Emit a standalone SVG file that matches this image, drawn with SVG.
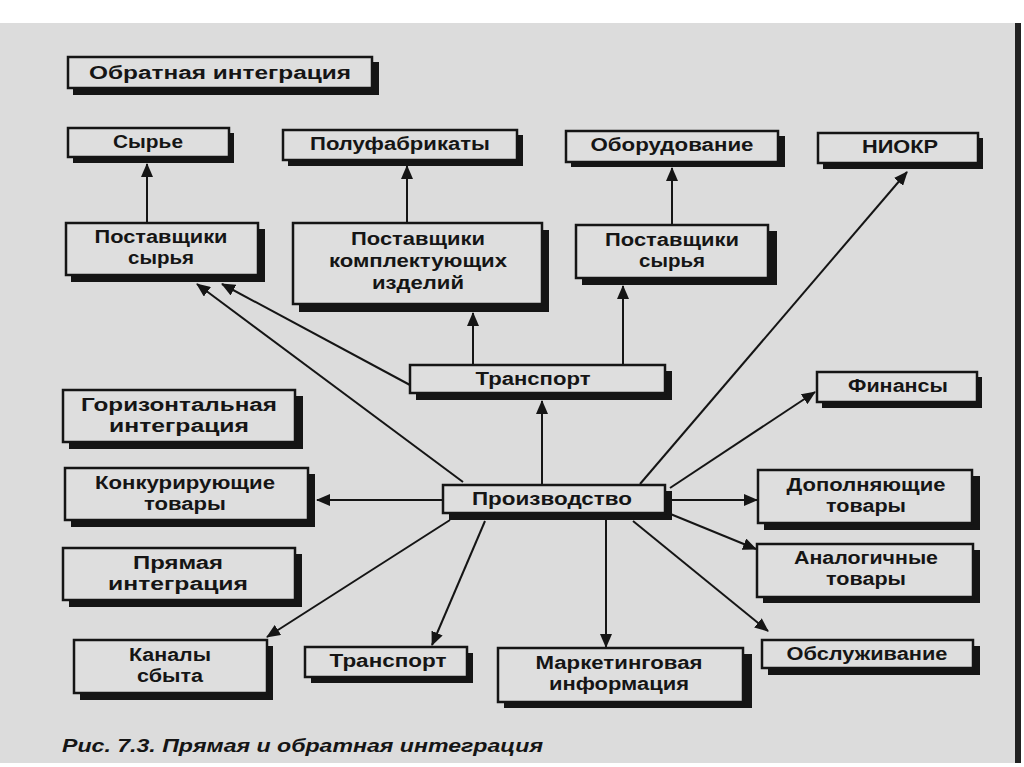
<svg xmlns="http://www.w3.org/2000/svg" width="1024" height="767" viewBox="0 0 1024 767">
<style>
.sh{fill:#151515}
.bx{fill:#dedede;stroke:#151515;stroke-width:2.5}
.t{font-family:"Liberation Sans",Arial,sans-serif;font-weight:bold;font-size:18px;fill:#151515;text-anchor:middle}
.c line{stroke:#151515;stroke-width:2;marker-end:url(#ah)}
</style>
<defs>
<marker id="ah" markerUnits="userSpaceOnUse" markerWidth="14" markerHeight="12" viewBox="0 0 14 12" refX="13" refY="6" orient="auto">
<path d="M0,0 L14,6 L0,12 Z" fill="#151515"/>
</marker>
</defs>
<rect x="0" y="0" width="1024" height="767" fill="#ffffff"/>
<rect x="0" y="23" width="1020" height="740" fill="#dcdcdc"/>
<rect x="1015" y="23" width="6" height="740" fill="#222"/>

<g class="c">
<line x1="147" y1="223" x2="147" y2="164"/>
<line x1="407" y1="223" x2="407" y2="166"/>
<line x1="672" y1="225" x2="672" y2="168"/>
<line x1="473" y1="365" x2="473" y2="313"/>
<line x1="623" y1="365" x2="623" y2="286"/>
<line x1="542" y1="485" x2="542" y2="401"/>
<line x1="410" y1="385" x2="222" y2="284"/>
<line x1="463" y1="482" x2="197" y2="284"/>
<line x1="640" y1="484" x2="907" y2="172"/>
<line x1="670" y1="488" x2="815" y2="392"/>
<line x1="667" y1="500" x2="757" y2="500"/>
<line x1="668" y1="513" x2="756" y2="549"/>
<line x1="633" y1="521" x2="768" y2="631"/>
<line x1="606" y1="514" x2="606" y2="647"/>
<line x1="443" y1="500" x2="317" y2="500"/>
<line x1="450" y1="520" x2="267" y2="637"/>
<line x1="485" y1="521" x2="432" y2="645"/>
</g>

<g id="n-obr">
<rect class="sh" x="73" y="62" width="306" height="33"/>
<rect class="bx" x="68" y="57" width="304" height="31"/>
<text class="t" x="220" y="79" textLength="262" lengthAdjust="spacingAndGlyphs">Обратная интеграция</text>
</g>
<g id="n-syrye">
<rect class="sh" x="73" y="133" width="161" height="30"/>
<rect class="bx" x="68" y="128" width="161" height="29"/>
<text class="t" x="148" y="148" textLength="70" lengthAdjust="spacingAndGlyphs">Сырье</text>
</g>
<g id="n-polufab">
<rect class="sh" x="288" y="135" width="235" height="31"/>
<rect class="bx" x="283" y="130" width="234" height="30"/>
<text class="t" x="400" y="150" textLength="180" lengthAdjust="spacingAndGlyphs">Полуфабрикаты</text>
</g>
<g id="n-oborud">
<rect class="sh" x="571" y="136" width="214" height="31"/>
<rect class="bx" x="566" y="131" width="212" height="31"/>
<text class="t" x="672" y="151" textLength="163" lengthAdjust="spacingAndGlyphs">Оборудование</text>
</g>
<g id="n-niokr">
<rect class="sh" x="823" y="138" width="160" height="31"/>
<rect class="bx" x="818" y="133" width="160" height="30"/>
<text class="t" x="900" y="153" textLength="76" lengthAdjust="spacingAndGlyphs">НИОКР</text>
</g>
<g id="n-post1">
<rect class="sh" x="71" y="229" width="194" height="53"/>
<rect class="bx" x="66" y="223" width="192" height="52"/>
<text class="t" x="161" y="243" textLength="133" lengthAdjust="spacingAndGlyphs">Поставщики</text>
<text class="t" x="161" y="264" textLength="66" lengthAdjust="spacingAndGlyphs">сырья</text>
</g>
<g id="n-post2">
<rect class="sh" x="299" y="230" width="250" height="82"/>
<rect class="bx" x="293" y="223" width="249" height="81"/>
<text class="t" x="418" y="245" textLength="134" lengthAdjust="spacingAndGlyphs">Поставщики</text>
<text class="t" x="418" y="267" textLength="178" lengthAdjust="spacingAndGlyphs">комплектующих</text>
<text class="t" x="418" y="289" textLength="92" lengthAdjust="spacingAndGlyphs">изделий</text>
</g>
<g id="n-post3">
<rect class="sh" x="582" y="231" width="195" height="54"/>
<rect class="bx" x="576" y="225" width="192" height="53"/>
<text class="t" x="672" y="246" textLength="134" lengthAdjust="spacingAndGlyphs">Поставщики</text>
<text class="t" x="672" y="267" textLength="66" lengthAdjust="spacingAndGlyphs">сырья</text>
</g>
<g id="n-trans1">
<rect class="sh" x="416" y="371" width="256" height="29"/>
<rect class="bx" x="410" y="365" width="255" height="28"/>
<text class="t" x="533" y="385" textLength="115" lengthAdjust="spacingAndGlyphs">Транспорт</text>
</g>
<g id="n-proizv">
<rect class="sh" x="449" y="491" width="223" height="29"/>
<rect class="bx" x="443" y="485" width="222" height="28"/>
<text class="t" x="552" y="505" textLength="160" lengthAdjust="spacingAndGlyphs">Производство</text>
</g>
<g id="n-fin">
<rect class="sh" x="822" y="377" width="160" height="31"/>
<rect class="bx" x="817" y="372" width="160" height="30"/>
<text class="t" x="898" y="392" textLength="100" lengthAdjust="spacingAndGlyphs">Финансы</text>
</g>
<g id="n-dop">
<rect class="sh" x="764" y="476" width="216" height="54"/>
<rect class="bx" x="758" y="470" width="214" height="53"/>
<text class="t" x="866" y="491" textLength="159" lengthAdjust="spacingAndGlyphs">Дополняющие</text>
<text class="t" x="866" y="512" textLength="80" lengthAdjust="spacingAndGlyphs">товары</text>
</g>
<g id="n-anal">
<rect class="sh" x="763" y="550" width="217" height="53"/>
<rect class="bx" x="757" y="544" width="216" height="53"/>
<text class="t" x="866" y="564" textLength="144" lengthAdjust="spacingAndGlyphs">Аналогичные</text>
<text class="t" x="866" y="585" textLength="80" lengthAdjust="spacingAndGlyphs">товары</text>
</g>
<g id="n-obsl">
<rect class="sh" x="768" y="646" width="212" height="29"/>
<rect class="bx" x="762" y="640" width="211" height="28"/>
<text class="t" x="867" y="660" textLength="161" lengthAdjust="spacingAndGlyphs">Обслуживание</text>
</g>
<g id="n-mark">
<rect class="sh" x="504" y="654" width="248" height="54"/>
<rect class="bx" x="498" y="648" width="245" height="54"/>
<text class="t" x="619" y="669" textLength="167" lengthAdjust="spacingAndGlyphs">Маркетинговая</text>
<text class="t" x="619" y="690" textLength="140" lengthAdjust="spacingAndGlyphs">информация</text>
</g>
<g id="n-trans2">
<rect class="sh" x="311" y="653" width="162" height="30"/>
<rect class="bx" x="305" y="647" width="162" height="30"/>
<text class="t" x="388" y="667" textLength="117" lengthAdjust="spacingAndGlyphs">Транспорт</text>
</g>
<g id="n-kanaly">
<rect class="sh" x="80" y="646" width="193" height="54"/>
<rect class="bx" x="74" y="640" width="193" height="53"/>
<text class="t" x="170" y="661" textLength="82" lengthAdjust="spacingAndGlyphs">Каналы</text>
<text class="t" x="170" y="682" textLength="66" lengthAdjust="spacingAndGlyphs">сбыта</text>
</g>
<g id="n-pryam">
<rect class="sh" x="69" y="554" width="233" height="53"/>
<rect class="bx" x="63" y="548" width="232" height="52"/>
<text class="t" x="178" y="569" textLength="90" lengthAdjust="spacingAndGlyphs">Прямая</text>
<text class="t" x="178" y="590" textLength="140" lengthAdjust="spacingAndGlyphs">интеграция</text>
</g>
<g id="n-konk">
<rect class="sh" x="71" y="474" width="244" height="53"/>
<rect class="bx" x="65" y="468" width="243" height="52"/>
<text class="t" x="185" y="489" textLength="180" lengthAdjust="spacingAndGlyphs">Конкурирующие</text>
<text class="t" x="185" y="510" textLength="82" lengthAdjust="spacingAndGlyphs">товары</text>
</g>
<g id="n-gor">
<rect class="sh" x="69" y="396" width="234" height="53"/>
<rect class="bx" x="63" y="390" width="232" height="52"/>
<text class="t" x="179" y="411" textLength="196" lengthAdjust="spacingAndGlyphs">Горизонтальная</text>
<text class="t" x="179" y="432" textLength="140" lengthAdjust="spacingAndGlyphs">интеграция</text>
</g>

<text x="62" y="752" font-family="'Liberation Sans',Arial,sans-serif" font-weight="bold" font-style="italic" font-size="18" fill="#151515" textLength="481" lengthAdjust="spacingAndGlyphs">Рис. 7.3. Прямая и обратная интеграция</text>
</svg>
